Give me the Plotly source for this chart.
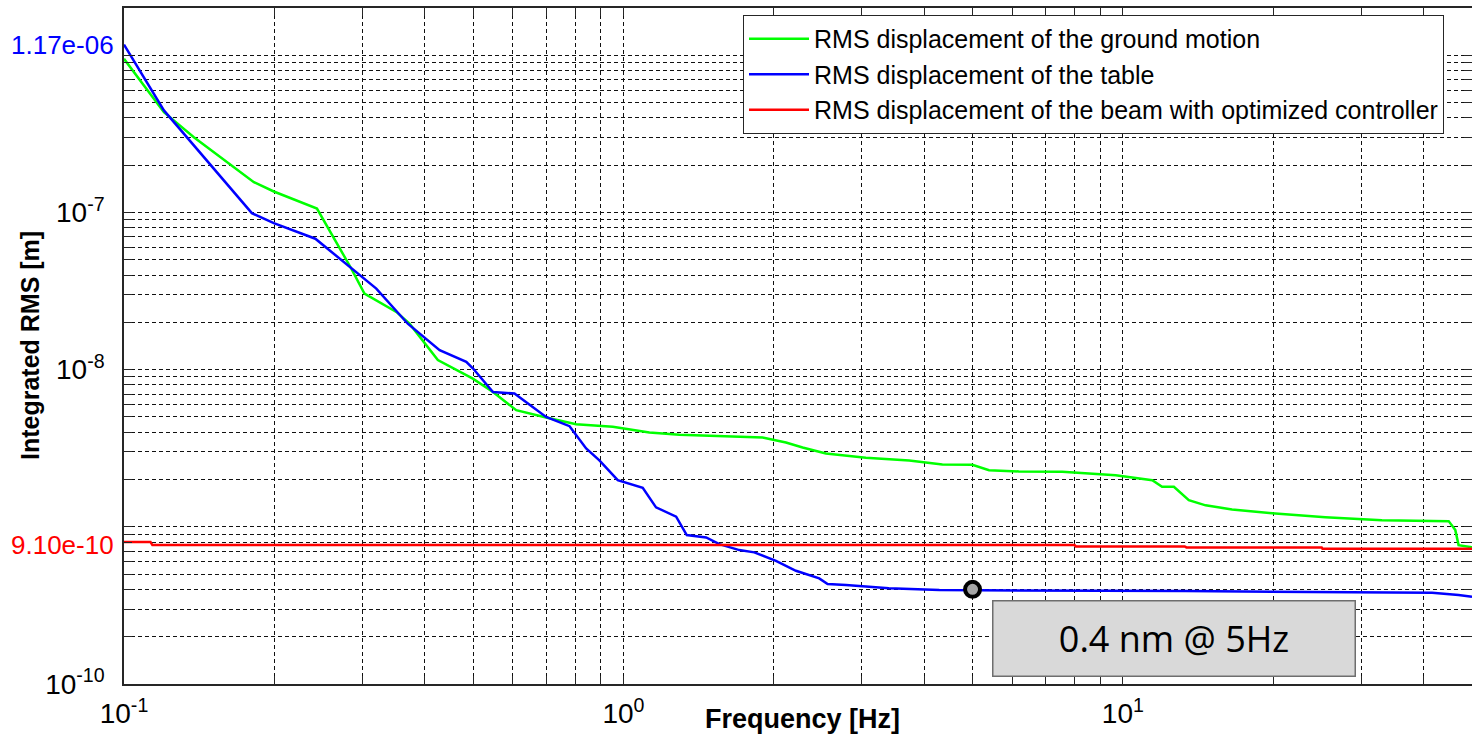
import math
import plotly.graph_objects as go

# ---------------- data ----------------
ground_f = [0.1, 0.1202, 0.138, 0.182, 0.1995, 0.2434, 0.284, 0.303, 0.351, 0.373,
            0.425, 0.4994, 0.548, 0.61, 0.70, 0.804, 0.952, 1.127, 1.294, 1.654,
            1.899, 2.115, 2.284, 2.543, 3.058, 3.733, 4.35, 4.995, 5.395, 6.19,
            7.56, 9.67, 11.45, 11.98, 12.65, 13.55, 14.64, 16.54, 19.89, 25.43,
            33.0, 44.9, 46.3, 47.0, 50.0]
ground_rms = [9.5e-7, 4.35e-7, 3.01e-7, 1.56e-7, 1.36e-7, 1.06e-7, 4.5e-8, 3.05e-8, 2.33e-8, 1.96e-8,
              1.15e-8, 8.77e-9, 7.21e-9, 5.52e-9, 4.96e-9, 4.5e-9, 4.33e-9, 3.98e-9, 3.86e-9, 3.77e-9,
              3.70e-9, 3.44e-9, 3.20e-9, 2.93e-9, 2.75e-9, 2.64e-9, 2.49e-9, 2.48e-9, 2.29e-9, 2.25e-9,
              2.24e-9, 2.13e-9, 1.98e-9, 1.80e-9, 1.80e-9, 1.48e-9, 1.37e-9, 1.29e-9, 1.22e-9, 1.15e-9,
              1.10e-9, 1.087e-9, 9.53e-10, 7.65e-10, 7.40e-10]

table_f = [0.1, 0.1202, 0.1803, 0.1995, 0.2416, 0.284, 0.320, 0.370, 0.4285, 0.4845,
           0.4994, 0.548, 0.605, 0.70, 0.78, 0.842, 0.895, 0.974, 1.093, 1.162,
           1.275, 1.339, 1.464, 1.556, 1.706, 1.828, 2.02, 2.215, 2.466, 2.563,
           2.79, 3.40, 4.29, 13.35, 41.6, 47.0, 50.0]
table_rms = [1.17e-6, 4.46e-7, 9.9e-8, 8.56e-8, 6.81e-8, 4.5e-8, 3.28e-8, 1.96e-8, 1.33e-8, 1.12e-8,
             1.02e-8, 7.21e-9, 7.05e-9, 5.0e-9, 4.37e-9, 3.15e-9, 2.65e-9, 1.98e-9, 1.77e-9, 1.33e-9,
             1.16e-9, 8.86e-10, 8.56e-10, 7.76e-10, 7.11e-10, 6.88e-10, 6.08e-10, 5.25e-10, 4.70e-10, 4.32e-10,
             4.26e-10, 4.06e-10, 3.96e-10, 3.90e-10, 3.81e-10, 3.68e-10, 3.59e-10]

beam_f = [0.1, 0.113, 0.114, 8.0, 8.05, 13.3, 13.4, 25.0, 25.1, 50.0]
beam_rms = [8.0e-10, 8.0e-10, 7.65e-10, 7.65e-10, 7.5e-10, 7.5e-10, 7.4e-10, 7.4e-10, 7.25e-10, 7.25e-10]

marker_f = [5.0]
marker_rms = [4.0e-10]

labels = ["RMS displacement of the ground motion",
          "RMS displacement of the table",
          "RMS displacement of the beam with optimized controller"]
top_label = "1.17e-06"
top_value = 1.17e-6
beam_label = "9.10e-10"
note_text = "0.4 nm @ 5Hz"

x_decades = [-2, -1, 0, 1]
y_decades = [-10, -9, -8, -7, -6]
x_labelled = {-1: "10<sup>-1</sup>", 0: "10<sup>0</sup>", 1: "10<sup>1</sup>"}
y_labelled = {-10: "10<sup>-10</sup>", -8: "10<sup>-8</sup>", -7: "10<sup>-7</sup>"}

# ---------------- ticks ----------------
def ticks(decades, labelled):
    vals, txt = [], []
    for d in decades:
        for m in range(1, 10):
            vals.append(m * 10.0 ** d)
            txt.append(labelled.get(d, "") if m == 1 else "")
    return vals, txt

xv, xt = ticks(x_decades, x_labelled)
yv, yt = ticks(y_decades, y_labelled)

FONT = "Liberation Sans, Arial, sans-serif"

fig = go.Figure()
fig.add_trace(go.Scatter(x=ground_f, y=ground_rms, mode="lines", name=labels[0],
                         line=dict(color="#00ff00", width=2.5)))
fig.add_trace(go.Scatter(x=table_f, y=table_rms, mode="lines", name=labels[1],
                         line=dict(color="#0000ff", width=2.5)))
fig.add_trace(go.Scatter(x=beam_f, y=beam_rms, mode="lines", name=labels[2],
                         line=dict(color="#ff0000", width=2.5)))
fig.add_trace(go.Scatter(x=marker_f, y=marker_rms, mode="markers", showlegend=False,
                         marker=dict(size=15, color="#a6a6a6",
                                     line=dict(color="black", width=4))))

axis_common = dict(
    type="log", showline=True, linecolor="#262626", linewidth=1.5, mirror="allticks",
    ticks="inside", ticklen=8, tickcolor="#262626", tickwidth=1,
    showgrid=True, gridcolor="#111111", gridwidth=1.2, griddash="4px,3px",
    zeroline=False, tickmode="array", automargin=False,
    tickfont=dict(family=FONT, size=28, color="black"),
)

fig.update_xaxes(**axis_common, range=[-1, math.log10(50)], tickvals=xv, ticktext=xt,
                 ticklabelstandoff=4)
fig.update_yaxes(**axis_common, range=[-10, math.log10(2e-6)], tickvals=yv, ticktext=yt,
                 ticklabelstandoff=12)

annotations = [
    dict(text="<b>Frequency [Hz]</b>", xref="paper", yref="paper", x=0.503, y=0,
         yshift=-35, xanchor="center", yanchor="middle", showarrow=False,
         font=dict(family=FONT, size=27, color="black")),
    dict(text="<b>Integrated RMS [m]</b>", xref="paper", yref="paper", x=0, y=0.5,
         xshift=-94, xanchor="center", yanchor="middle", textangle=-90, showarrow=False,
         font=dict(family=FONT, size=25, color="black")),
    dict(text=top_label, xref="paper", yref="y", x=0, y=math.log10(top_value),
         xanchor="right", yanchor="middle", xshift=-8, showarrow=False,
         font=dict(family=FONT, size=26, color="#0000ff")),
    dict(text=beam_label, xref="paper", yref="y", x=0, y=math.log10(beam_rms[0]),
         xanchor="right", yanchor="middle", xshift=-8, yshift=-3, showarrow=False,
         font=dict(family=FONT, size=26, color="#ff0000")),
    dict(text=note_text, xref="paper", yref="paper", x=0.7786, y=0.0666,
         xanchor="center", yanchor="middle", showarrow=False,
         width=357, height=70, bgcolor="#d9d9d9", bordercolor="#6e6e6e",
         borderwidth=1.5, borderpad=2,
         font=dict(family="Open Sans, Noto Sans, sans-serif", size=36, color="black")),
]

fig.update_layout(
    width=1472, height=735,
    margin=dict(l=124, r=0, t=8, b=51, autoexpand=False),
    paper_bgcolor="white", plot_bgcolor="white",
    annotations=annotations,
    showlegend=True,
    legend=dict(x=0.4592, y=0.9897, xanchor="left", yanchor="top",
                bgcolor="white", bordercolor="#262626", borderwidth=1,
                font=dict(family=FONT, size=25, color="black"),
                itemwidth=60, tracegroupgap=0),
)

fig.write_html("out.html", config={"displayModeBar": False},
               post_script="document.body.style.margin='0';document.body.style.overflow='hidden';")
